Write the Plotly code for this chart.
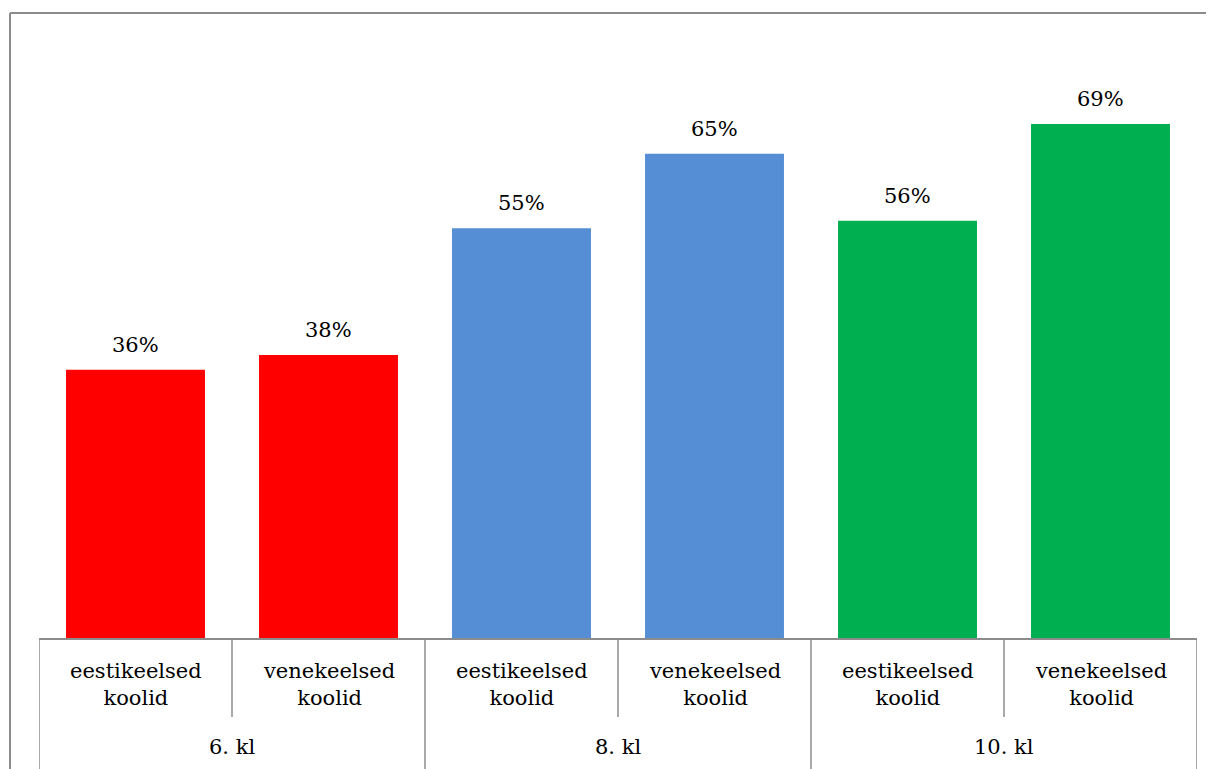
import plotly.graph_objects as go

groups = ["6. kl", "8. kl", "10. kl"]
subcats = ["eestikeelsed<br>koolid", "venekeelsed<br>koolid"]
values = [0.36, 0.38, 0.55, 0.65, 0.56, 0.69]
labels = ["36%", "38%", "55%", "65%", "56%", "69%"]
colors = ["#FF0000", "#FF0000", "#558ED5", "#558ED5", "#00B050", "#00B050"]

# page body has an 8px margin; figure sized so it fills the window
OFF = 8
W, H = 1214 - OFF, 769 - OFF
ML, MR, MT, MB = 39 - OFF, 17, 42 - OFF, 131
pw = W - ML - MR
ph = H - MT - MB

xcats = [f"{g}|{s}" for g in groups for s in subcats]
font = dict(family="DejaVu Serif, serif", size=21, color="#000000")
gray = "#8C8C8C"

fig = go.Figure()
fig.add_trace(go.Bar(
    x=xcats, y=values, marker=dict(color=colors, line=dict(width=0)),
    hoverinfo="skip", showlegend=False,
))

ann = []
for xc, v, lab in zip(xcats, values, labels):
    ann.append(dict(x=xc, y=v, xref="x", yref="y", text=lab, showarrow=False,
                    yanchor="middle", yshift=25, font=font))
for i, xc in enumerate(xcats):
    sub = subcats[i % 2]
    ann.append(dict(x=xc, y=-46 / ph, xref="x", yref="paper", text=sub,
                    showarrow=False, yanchor="middle", font=font))
for gi, g in enumerate(groups):
    ann.append(dict(x=gi * 2 + 0.5, y=-109 / ph, xref="x", yref="paper", text=g,
                    showarrow=False, yanchor="middle", font=font))

shapes = []
for k in range(len(groups) + 1):
    xb = k * 2 - 0.5
    shapes.append(dict(type="line", xref="x", yref="paper", x0=xb, x1=xb,
                       y0=0, y1=-(MB + 10) / ph, line=dict(color=gray, width=1.5)))
for k in range(len(groups)):
    xb = k * 2 + 0.5
    shapes.append(dict(type="line", xref="x", yref="paper", x0=xb, x1=xb,
                       y0=0, y1=-79 / ph, line=dict(color=gray, width=1.5)))
bx = (10 - OFF - ML) / pw
by = (MT + ph - (13 - OFF)) / ph
shapes.append(dict(type="line", xref="paper", yref="paper", x0=bx, x1=bx,
                   y0=by, y1=-(MB + 20) / ph, line=dict(color=gray, width=2)))
shapes.append(dict(type="line", xref="paper", yref="paper", x0=bx, x1=(W + 20 - ML) / pw,
                   y0=by, y1=by, line=dict(color=gray, width=2)))

fig.update_layout(
    width=W, height=H,
    margin=dict(l=ML, r=MR, t=MT, b=MB, pad=0),
    paper_bgcolor="white", plot_bgcolor="white",
    bargap=0.28,
    font=font,
    xaxis=dict(type="category", range=[-0.5, 5.5], showticklabels=False, ticks="",
               showgrid=False, zeroline=False, showline=True, linecolor=gray, linewidth=1.5,
               fixedrange=True),
    yaxis=dict(range=[0, 0.8], visible=False, showgrid=False, zeroline=False, fixedrange=True),
    annotations=ann, shapes=shapes,
)

fig.write_html("out.html", config={"displayModeBar": False})
